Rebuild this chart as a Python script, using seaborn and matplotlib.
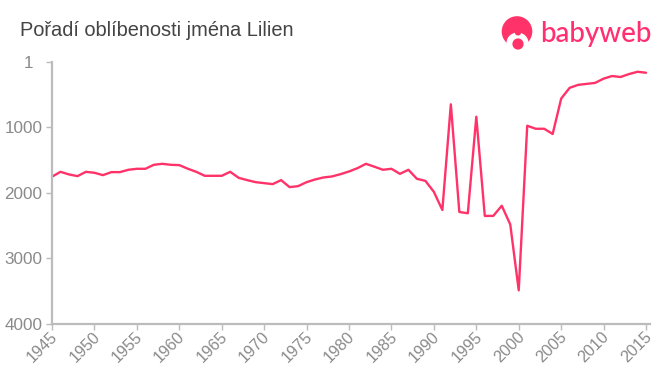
import matplotlib
matplotlib.use("Agg")
import matplotlib.pyplot as plt
from matplotlib.patches import Circle, Ellipse
from matplotlib.transforms import ScaledTranslation
import pandas as pd
import seaborn as sns

years = list(range(1945, 2016))
ranks = [1752, 1677, 1717, 1743, 1677, 1692, 1728, 1682, 1682, 1646,
         1631, 1631, 1570, 1555, 1570, 1575, 1630, 1677, 1738, 1738,
         1738, 1677, 1769, 1804, 1835, 1850, 1865, 1804, 1911, 1896,
         1835, 1794, 1763, 1748, 1713, 1672, 1621, 1555, 1600, 1646,
         1631, 1708, 1646, 1784, 1815, 1983, 2260, 647, 2290, 2310,
         836, 2350, 2350, 2195, 2480, 3486, 974, 1020, 1020, 1100,
         560, 395, 350, 335, 320, 255, 215, 230, 185, 150, 165]
xticks = list(range(1945, 2016, 5))
yticks = [1, 1000, 2000, 3000, 4000]
title = "Pořadí oblíbenosti jména Lilien"
brand = "babyweb"

PINK = "#ff3369"
AXIS = "#bcbcbc"
TICK = "#8a8a8a"
W, H = 660, 375

sns.set_theme(style="white", rc={"font.family": ["Liberation Sans", "DejaVu Sans"]})
fig = plt.figure(figsize=(W / 100, H / 100), dpi=100, facecolor="white")
L, R, T, B = 52, 650, 62, 324
ax = fig.add_axes([L / W, 1 - B / H, (R - L) / W, (B - T) / H])

df = pd.DataFrame({"year": years, "rank": ranks})
sns.lineplot(data=df, x="year", y="rank", color=PINK, lw=1.7, ax=ax, clip_on=False)
ax.set_xlim(1945, 1945 + (R - L) / 8.486)
ax.set_ylim(4000, 1)
ax.set_xticks(xticks)
ax.set_yticks(yticks)
ax.set_xlabel("")
ax.set_ylabel("")
ax.grid(False)
for s in ("top", "right"):
    ax.spines[s].set_visible(False)
for s in ("left", "bottom"):
    ax.spines[s].set_color(AXIS)
    ax.spines[s].set_linewidth(1.6)
ax.tick_params(axis="both", length=4, width=1.0, color=AXIS, labelcolor=TICK,
               labelsize=12.3, pad=3, left=True, bottom=True)
ax.tick_params(axis="x", labelsize=11.6, pad=-0.5)
shift = ScaledTranslation(-2 / 100, 0, fig.dpi_scale_trans)
for lab in ax.get_xticklabels():
    lab.set_rotation(45)
    lab.set_ha("right")
    lab.set_va("top")
    lab.set_rotation_mode("anchor")
    lab.set_transform(lab.get_transform() + shift)
first = ax.get_yticklabels()[0]
first.set_transform(first.get_transform() + ScaledTranslation(-9 / 100, 0, fig.dpi_scale_trans))

fig.text(20 / W, 1 - 30 / H, title, fontsize=14.4, color="#444444", va="center", ha="left")

# logo, drawn in an overlay measured in pixels
ov = fig.add_axes([0, 0, 1, 1], facecolor="none")
ov.set_xlim(0, W)
ov.set_ylim(H, 0)
ov.axis("off")
ov.add_patch(Circle((517, 31.5), 15.3, fc=PINK, ec="none"))
ov.add_patch(Ellipse((517.5, 43), 22, 21, fc="white", ec="none"))
ov.add_patch(Ellipse((518, 33), 6, 5, fc=PINK, ec="none"))
ov.add_patch(Circle((518, 44), 5.6, fc=PINK, ec="none"))
ov.text(540, 34, brand, fontsize=20, color="#ff2f72", family="Lato", weight="medium",
        va="center", ha="left")

fig.savefig("out.png", dpi=100)
